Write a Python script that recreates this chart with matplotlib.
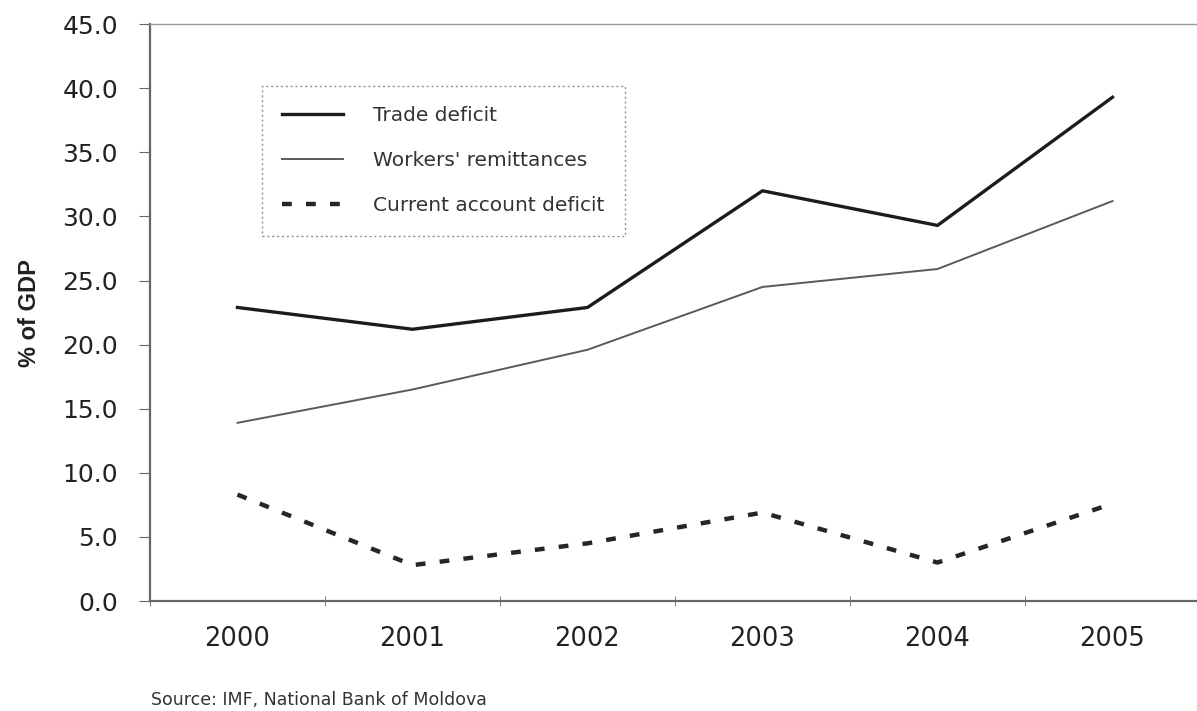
import numpy as np
import matplotlib.pyplot as plt

plt.rcParams['font.family'] = ['DejaVu Sans']

years = ["2000", "2001", "2002", "2003", "2004", "2005"]
trade_deficit = [22.9, 21.2, 22.9, 32.0, 29.3, 39.3]
remittances = [13.9, 16.5, 19.6, 24.5, 25.9, 31.2]
current_account = [8.3, 2.8, 4.5, 6.9, 3.0, 7.6]

x = np.arange(len(years))

fig = plt.figure(figsize=(11.97, 7.11), dpi=100)
ax = fig.add_axes([0.1253, 0.1547, 0.8772, 0.8113])

ax.plot(x, trade_deficit, color="#1c1c1c", lw=2.4, label="Trade deficit")
ax.plot(x, remittances, color="#5a5a5a", lw=1.4, label="Workers' remittances")
ax.plot(x, current_account, color="#262626", lw=3.2, ls=(0, (2.2, 3.2)),
        label="Current account deficit")

ax.set_xlim(-0.5, len(years) - 0.5)
ax.set_ylim(0, 45)
ax.set_yticks(np.arange(0, 45.1, 5))
ax.set_yticklabels([f"{v:.1f}" for v in np.arange(0, 45.1, 5)], fontsize=18, color="#222")

ax.set_xticks(x)
ax.set_xticklabels(years, fontsize=18.5, color="#222")
ax.tick_params(axis="x", which="major", length=0, pad=18)
ax.set_xticks(np.arange(-0.5, len(years), 1), minor=True)
ax.tick_params(axis="x", which="minor", length=7, direction="inout", color="#666")
ax.tick_params(axis="y", length=8, color="#666", pad=15)

for side in ["left", "bottom"]:
    ax.spines[side].set_color("#666")
    ax.spines[side].set_linewidth(1.6)
for side in ["top", "right"]:
    ax.spines[side].set_color("#999")
    ax.spines[side].set_linewidth(1.0)

ax.set_ylabel("% of GDP", fontsize=17, fontweight="bold", color="#222",
              family=["Liberation Sans", "DejaVu Sans"])
ax.yaxis.set_label_coords(-0.104, 0.5)

leg = ax.legend(loc="upper left", bbox_to_anchor=(0.107, 0.893), fontsize=14.5,
                frameon=True, fancybox=False, handlelength=3.0, handletextpad=1.5,
                labelspacing=1.3, borderpad=1.0, borderaxespad=0)
leg.get_frame().set_edgecolor("#777")
leg.get_frame().set_linestyle((0, (1.5, 2)))
leg.get_frame().set_linewidth(1.0)
for t in leg.get_texts():
    t.set_color("#333")

fig.text(0.126, 0.008, "Source: IMF, National Bank of Moldova", fontsize=12.5, color="#333")

fig.savefig("out.png", dpi=100)
